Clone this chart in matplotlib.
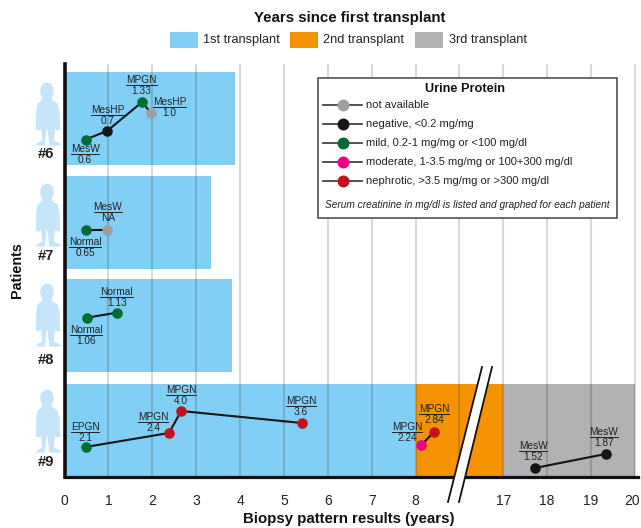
import matplotlib
matplotlib.use('Agg')
import matplotlib.pyplot as plt
from matplotlib.patches import Rectangle, Ellipse, Polygon
from matplotlib.lines import Line2D
from matplotlib.transforms import Affine2D
import numpy as np

plt.rcParams['font.family'] = ['Liberation Sans', 'DejaVu Sans']

# lanes, bottom to top
patients = ['#9', '#8', '#7', '#6']
lane_bottom = [0, 105, 208, 312]
lane_height = 93
first_end = [8, 3.82, 3.34, 3.89]
second_span = (8, 17)
third_span = (17, 20)

# biopsy times (years), graphed creatinine height, protein class, label texts
p6_x = [0.48, 0.97, 1.77, 1.97]
p6_y = [337.5, 346, 375, 364]
p6_c = ['mild', 'neg', 'mild', 'na']
p6_name = ['MesW', 'MesHP', 'MPGN', 'MesHP']
p6_val = ['0.6', '0.7', '1.33', '1.0']

p7_x = [0.49, 0.97]
p7_y = [247, 247]
p7_c = ['mild', 'na']
p7_name = ['Normal', 'MesW']
p7_val = ['0.65', 'NA']

p8_x = [0.51, 1.19]
p8_y = [159.3, 164.3]
p8_c = ['mild', 'mild']
p8_name = ['Normal', 'Normal']
p8_val = ['1.06', '1.13']

p9a_x = [0.48, 2.38, 2.66, 5.41]
p9a_y = [30, 44, 66, 54]
p9a_c = ['mild', 'neph', 'neph', 'neph']
p9a_name = ['EPGN', 'MPGN', 'MPGN', 'MPGN']
p9a_val = ['2.1', '2.4', '4.0', '3.6']

p9b_x = [8.13, 8.42]
p9b_y = [32, 45]
p9b_c = ['mod', 'neph']
p9b_name = ['MPGN', 'MPGN']
p9b_val = ['2.24', '2.84']

p9c_x = [17.72, 19.33]
p9c_y = [9, 23]
p9c_c = ['neg', 'neg']
p9c_name = ['MesW', 'MesW']
p9c_val = ['1.52', '1.87']

tick_years = [0, 1, 2, 3, 4, 5, 6, 7, 8, 17, 18, 19, 20]
protein_keys = ['na', 'neg', 'mild', 'mod', 'neph']
protein_text = ['not available', 'negative, <0.2 mg/mg', 'mild, 0.2-1 mg/mg or <100 mg/dl',
                'moderate, 1-3.5 mg/mg or 100+300 mg/dl', 'nephrotic, >3.5 mg/mg or >300 mg/dl']
transplant_text = ['1st transplant', '2nd transplant', '3rd transplant']

# styles
col = {'na': '#9D9FA1', 'neg': '#161616', 'mild': '#006B35', 'mod': '#EC008C', 'neph': '#C1121F'}
blue, orange, grey = '#81CFF5', '#F49200', '#B0B2B3'
skin = '#C5E6FA'
ink = '#222222'

fig = plt.figure(figsize=(6.41, 5.28), dpi=100)
ax = fig.add_axes([64.5/641, 1-477/528, (638-64.5)/641, (477-64)/528])
px = Affine2D().scale(1/641, -1/528).translate(0, 1)+fig.transFigure


# years 9 to 17 are squeezed into one tick width (the axis break)
def fwd(x):
    x = np.asarray(x, float)
    return np.where(x <= 9, x, np.where(x >= 17, x-7, 9+(x-9)/8))


def inv(x):
    x = np.asarray(x, float)
    return np.where(x <= 9, x, np.where(x >= 10, x+7, 9+(x-9)*8))


ax.set_xscale('function', functions=(fwd, inv))

for b, e in zip(lane_bottom, first_end):
    ax.add_patch(Rectangle((0, b), e, lane_height, fc=blue, ec='none', zorder=1))
ax.add_patch(Rectangle((second_span[0], 0), second_span[1]-second_span[0], lane_height, fc=orange, ec='none', zorder=1))
ax.add_patch(Rectangle((third_span[0], 0), third_span[1]-third_span[0], lane_height, fc=grey, ec='none', zorder=1))

ax.set_xlim(0, 20.07)
ax.set_ylim(0, 413)
ax.set_xticks(tick_years)
ax.set_xticklabels([str(t) for t in tick_years], fontsize=10, color=ink)
ax.set_xticks([9], minor=True)
ax.set_yticks([])
ax.tick_params(axis='x', which='both', length=0, pad=12.5)
# last label would run off the right edge
last = ax.get_xticklabels()[-1]
last.set_transform(last.get_transform()+Affine2D().translate(-2.5, 0))
ax.set_axisbelow(False)
ax.grid(axis='x', which='both', color='black', alpha=0.15, lw=1.5, zorder=2.5)
for s in ['top', 'right']:
    ax.spines[s].set_visible(False)
ax.spines['left'].set_linewidth(2.6)
ax.spines['bottom'].set_linewidth(2.3)
ax.spines['left'].set_color('#111111')
ax.spines['bottom'].set_color('#111111')


def series(xs, ys, cs):
    ax.plot(xs, ys, color='#161616', lw=1.5, zorder=3, solid_capstyle='round')
    for x, y, c in zip(xs, ys, cs):
        ax.plot([x], [y], 'o', color=col[c], ms=7.6, mew=0, zorder=4)


series(p6_x, p6_y, p6_c)
series(p7_x, p7_y, p7_c)
series(p8_x, p8_y, p8_c)
series(p9a_x, p9a_y, p9a_c)
series(p9b_x, p9b_y, p9b_c)
series(p9c_x, p9c_y, p9c_c)

renderer = fig.canvas.get_renderer()


def label(name, val, cx, ny):
    t = ax.text(cx, ny, name, transform=px, ha='center', va='center', fontsize=7.3,
                color=ink, zorder=6, clip_on=False)
    w = t.get_window_extent(renderer).width
    ax.add_line(Line2D([cx-w/2, cx+w/2], [ny+5, ny+5], transform=px, color=ink, lw=0.7,
                       zorder=6, clip_on=False))
    ax.text(cx, ny+11, val, transform=px, ha='center', va='center', fontsize=7.3,
            color=ink, zorder=6, clip_on=False)


for names, vals, cxs, nys in [
        (p6_name, p6_val, [85, 107.5, 141.7, 169.7], [149, 110, 80, 102]),
        (p7_name, p7_val, [85, 108], [242, 207]),
        (p8_name, p8_val, [86, 116.7], [330, 292]),
        (p9a_name, p9a_val, [85, 153, 181, 301], [427, 417, 390, 401]),
        (p9b_name, p9b_val, [407, 434], [427, 409]),
        (p9c_name, p9c_val, [533, 604], [446, 432])]:
    for n, v, cx, ny in zip(names, vals, cxs, nys):
        label(n, v, cx, ny)

# axis break
ax.add_patch(Polygon([(448, 502), (482, 367), (492, 367), (459, 502)], closed=True, transform=px,
                     fc='white', ec='none', zorder=5, clip_on=False))
for xa, xb in [(448, 482), (459, 492)]:
    ax.add_line(Line2D([xa, xb], [502, 367], transform=px, color='#111111', lw=1.3, zorder=5.5, clip_on=False))


# child silhouettes
def child(oy, label_y, name):
    body = [(43, 98), (51, 98), (52, 101), (57, 104), (59, 112), (59, 125), (60, 129), (57, 130),
            (55.5, 126), (54, 131), (53, 141), (60, 144), (60, 145), (50, 145), (48, 128), (46, 128),
            (44, 145), (37, 145), (37, 144), (43, 141), (42, 131), (40.5, 126), (39, 130), (36.5, 129),
            (37, 112), (38, 104), (42, 101)]
    body = [(x, y+oy) for x, y in body]
    ax.add_patch(Polygon(body, closed=True, transform=px, fc=skin, ec=skin, lw=1, joinstyle='round', clip_on=False))
    ax.add_patch(Ellipse((47, 91+oy), 13.5, 17, transform=px, fc=skin, ec='none', clip_on=False))
    ax.text(46, label_y, name, transform=px, ha='center', va='center', fontsize=10.6, fontweight='bold',
            color=ink, clip_on=False)


for name, oy, ly in zip(patients, [307, 201, 101, 0], [462, 360, 256, 154]):
    child(oy, ly, name)

# urine protein box
ax.add_patch(Rectangle((318, 78), 299, 140, transform=px, fc='white', ec='#444444', lw=1.1, zorder=7, clip_on=False))
ax.text(465, 89, 'Urine Protein', transform=px, ha='center', va='center', fontsize=9.2, fontweight='bold',
        color='#111111', zorder=8, clip_on=False)
for k, txt, ry in zip(protein_keys, protein_text, [105, 124, 143, 162, 181]):
    ax.add_line(Line2D([323, 362], [ry, ry], transform=px, color='#333333', lw=1.2, zorder=8, clip_on=False))
    ax.add_line(Line2D([342.5], [ry], transform=px, marker='o', color=col[k], ms=8.6, mew=0, zorder=8.5, clip_on=False))
    ax.text(366, ry, txt, transform=px, ha='left', va='center', fontsize=8, color=ink, zorder=8, clip_on=False)
ax.text(467, 205, 'Serum creatinine in mg/dl is listed and graphed for each patient', transform=px,
        ha='center', va='center', fontsize=7.3, style='italic', color=ink, zorder=8, clip_on=False)

# transplant key
fig.text(350, 18, 'Years since first transplant', transform=px, ha='center', va='center', fontsize=10.8,
         fontweight='bold', color='#111111')
for c, txt, x0, xt in zip([blue, orange, grey], transplant_text, [170, 290, 415], [203, 323, 449]):
    fig.add_artist(Rectangle((x0, 32), 28, 16, transform=px, fc=c, ec='none'))
    fig.text(xt, 40, txt, transform=px, ha='left', va='center', fontsize=9.2, color=ink)

fig.text(349, 519, 'Biopsy pattern results (years)', transform=px, ha='center', va='center', fontsize=10.8,
         fontweight='bold', color='#111111')
fig.text(17, 270, 'Patients', transform=px, ha='center', va='center', rotation=90, fontsize=10.4,
         fontweight='bold', color='#111111')

fig.savefig('out.png', dpi=100)
